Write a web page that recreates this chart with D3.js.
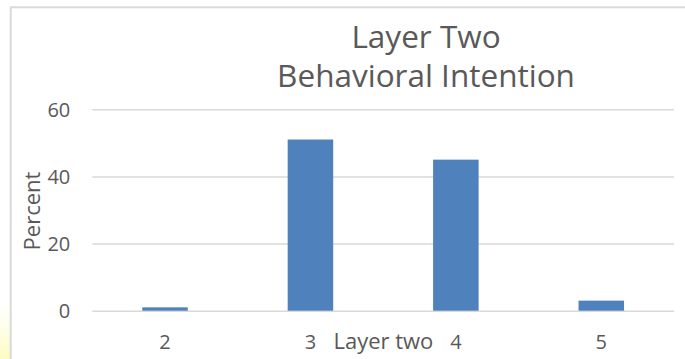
<!DOCTYPE html>
<html>
<head>
<meta charset="utf-8">
<script src="https://cdn.jsdelivr.net/npm/d3@7/dist/d3.min.js"></script>
<style>
  html, body { margin: 0; padding: 0; background: #ffffff; }
  svg { display: block; }
  text { font-family: "Open Sans", "Noto Sans", sans-serif; fill: #595959; }
</style>
</head>
<body>
<svg id="chart" width="685" height="359"></svg>
<script>
// Response levels and their share of respondents
const categories = ["2", "3", "4", "5"];
const percents = [1, 51, 45, 3];
const yTicks = [0, 20, 40, 60];
const titleLines = ["Layer Two", "Behavioral Intention"];
const xTitle = "Layer two";
const yTitle = "Percent";

const svg = d3.select("#chart");
const W = 685, H = 359;
const plot = { left: 92.3, right: 674, top: 109.3, bottom: 310.7 };

// soft highlight at the lower left edge
const defs = svg.append("defs");
const grad = defs.append("linearGradient")
  .attr("id", "edgeGlow").attr("x1", 0).attr("y1", 0).attr("x2", 0).attr("y2", 1);
grad.append("stop").attr("offset", "0%").attr("stop-color", "#ffffe0").attr("stop-opacity", 0);
grad.append("stop").attr("offset", "100%").attr("stop-color", "#fcfcc0").attr("stop-opacity", 1);
svg.append("rect").attr("x", 0).attr("y", 300).attr("width", 10).attr("height", H - 300)
  .attr("fill", "url(#edgeGlow)");

// chart area frame
svg.append("rect")
  .attr("x", 10.7).attr("y", 7.3)
  .attr("width", W + 20).attr("height", H + 20)
  .attr("fill", "none").attr("stroke", "#d9d9d9").attr("stroke-width", 2);

const x = d3.scaleBand()
  .domain(categories)
  .range([plot.left, plot.right])
  .paddingInner(0.687)
  .paddingOuter(0.3435);

const y = d3.scaleLinear()
  .domain([0, 60])
  .range([plot.bottom, plot.top]);

// horizontal gridlines with value labels
const yAxis = svg.append("g")
  .attr("transform", `translate(${plot.left},0)`)
  .call(d3.axisLeft(y).tickValues(yTicks).tickSize(-(plot.right - plot.left)).tickPadding(22));
yAxis.select(".domain").remove();
yAxis.selectAll(".tick line").attr("stroke", "#d9d9d9").attr("stroke-width", 1.5);
yAxis.selectAll(".tick text")
  .style("font-size", "20px").attr("fill", "#595959")
  .attr("dy", "0.36em");

// bars
svg.append("g").selectAll("rect")
  .data(categories.map((c, i) => ({ c, v: percents[i] })))
  .join("rect")
  .attr("x", d => x(d.c))
  .attr("y", d => y(d.v))
  .attr("width", x.bandwidth())
  .attr("height", d => y(0) - y(d.v))
  .attr("fill", "#4f81bd");

// category labels
const xAxis = svg.append("g")
  .attr("transform", `translate(0,${plot.bottom})`)
  .call(d3.axisBottom(x).tickSize(0).tickPadding(0));
xAxis.select(".domain").remove();
xAxis.selectAll(".tick text")
  .style("font-size", "20px").attr("fill", "#595959")
  .attr("dy", 0).attr("y", 38.5);

// axis titles
svg.append("text")
  .attr("x", 383.4).attr("y", 349)
  .attr("text-anchor", "middle")
  .style("font-size", "22px")
  .text(xTitle);

svg.append("text")
  .attr("transform", "translate(40,211) rotate(-90)")
  .attr("text-anchor", "middle")
  .style("font-size", "22px")
  .text(yTitle);

// chart title
svg.append("g").selectAll("text")
  .data(titleLines)
  .join("text")
  .attr("x", 426)
  .attr("y", (d, i) => [48, 87][i])
  .attr("text-anchor", "middle")
  .style("font-size", "31.5px")
  .text(d => d);
</script>
</body>
</html>
